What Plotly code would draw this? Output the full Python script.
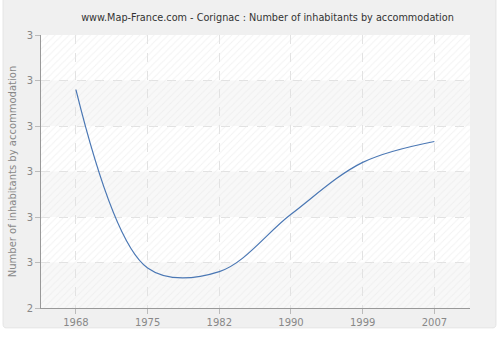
import plotly.graph_objects as go

years = ["1968", "1975", "1982", "1990", "1999", "2007"]
values = [2.690, 2.494, 2.490, 2.553, 2.610, 2.633]
ytick_vals = [2.45, 2.50, 2.55, 2.60, 2.65, 2.70, 2.75]
ytick_text = ["2", "3", "3", "3", "3", "3", "3"]

title = "www.Map-France.com - Corignac : Number of inhabitants by accommodation"
ytitle = "Number of inhabitants by accommodation"

xr = [-0.487, 5.497]
yr = [ytick_vals[0], ytick_vals[-1]]

fig = go.Figure()
# hatched background texture over the plot area
fig.add_trace(go.Scatter(
    x=[xr[0], xr[1], xr[1], xr[0], xr[0]], y=[yr[0], yr[0], yr[1], yr[1], yr[0]],
    mode="none", fill="toself", fillcolor="rgba(0,0,0,0)",
    fillpattern=dict(shape="/", fgcolor="#e6e6e6", bgcolor="rgba(0,0,0,0)", size=5, solidity=0.2),
    hoverinfo="skip", showlegend=False,
))
fig.add_trace(go.Scatter(
    x=list(range(len(years))), y=values, mode="lines",
    line=dict(color="#4a77b4", width=1.2, shape="spline", smoothing=1.0),
    hoverinfo="skip", showlegend=False,
))

frame = dict(type="path", xref="paper", yref="paper", layer="below",
             path="M -0.0814,-0.0727 L 1.0535,-0.0727 Q 1.0605,-0.0727 1.0605,-0.058 L 1.0605,1.1346 Q 1.0605,1.149 1.0535,1.149 L -0.0814,1.149 Q -0.0884,1.149 -0.0884,1.1346 L -0.0884,-0.058 Q -0.0884,-0.0727 -0.0814,-0.0727 Z",
             fillcolor="#f0f0f0", line=dict(color="#e4e4e4", width=1))
plotbg = dict(type="rect", xref="paper", yref="paper", x0=0, x1=1, y0=0, y1=1, layer="below",
              fillcolor="#ffffff", line=dict(width=0))
bands = [dict(type="rect", xref="paper", yref="y", x0=0, x1=1,
              y0=ytick_vals[i], y1=ytick_vals[i + 1], layer="below",
              fillcolor="#f8f8f8", line=dict(width=0))
         for i in range(0, len(ytick_vals) - 1, 2)]

fig.update_layout(
    width=500, height=340,
    margin=dict(l=40, r=30, t=35, b=30),
    paper_bgcolor="#ffffff",
    plot_bgcolor="#ffffff",
    title=dict(text=title, x=0.528, xref="paper", xanchor="center", y=0.947, yanchor="middle",
               font=dict(family="DejaVu Sans", size=9.7, color="#333333")),
    shapes=[frame, plotbg] + bands,
)
fig.update_xaxes(
    range=xr, tickmode="array", tickvals=list(range(len(years))), ticktext=years,
    showline=True, linecolor="#999999", linewidth=1,
    ticks="outside", ticklen=5, tickcolor="#bbbbbb",
    showgrid=True, gridcolor="#e2e2e2", griddash="dash", gridwidth=1,
    tickfont=dict(family="DejaVu Sans", size=10, color="#888888"), zeroline=False,
)
fig.update_yaxes(
    range=yr, tickmode="array", tickvals=ytick_vals, ticktext=ytick_text,
    showline=True, linecolor="#999999", linewidth=1,
    ticks="outside", ticklen=5, tickcolor="#bbbbbb",
    showgrid=True, gridcolor="#e2e2e2", griddash="dash", gridwidth=1,
    tickfont=dict(family="DejaVu Sans", size=10, color="#888888"), zeroline=False,
    title=dict(text=ytitle, font=dict(family="DejaVu Sans", size=10, color="#888888"), standoff=8),
)

fig.write_html("out.html")
